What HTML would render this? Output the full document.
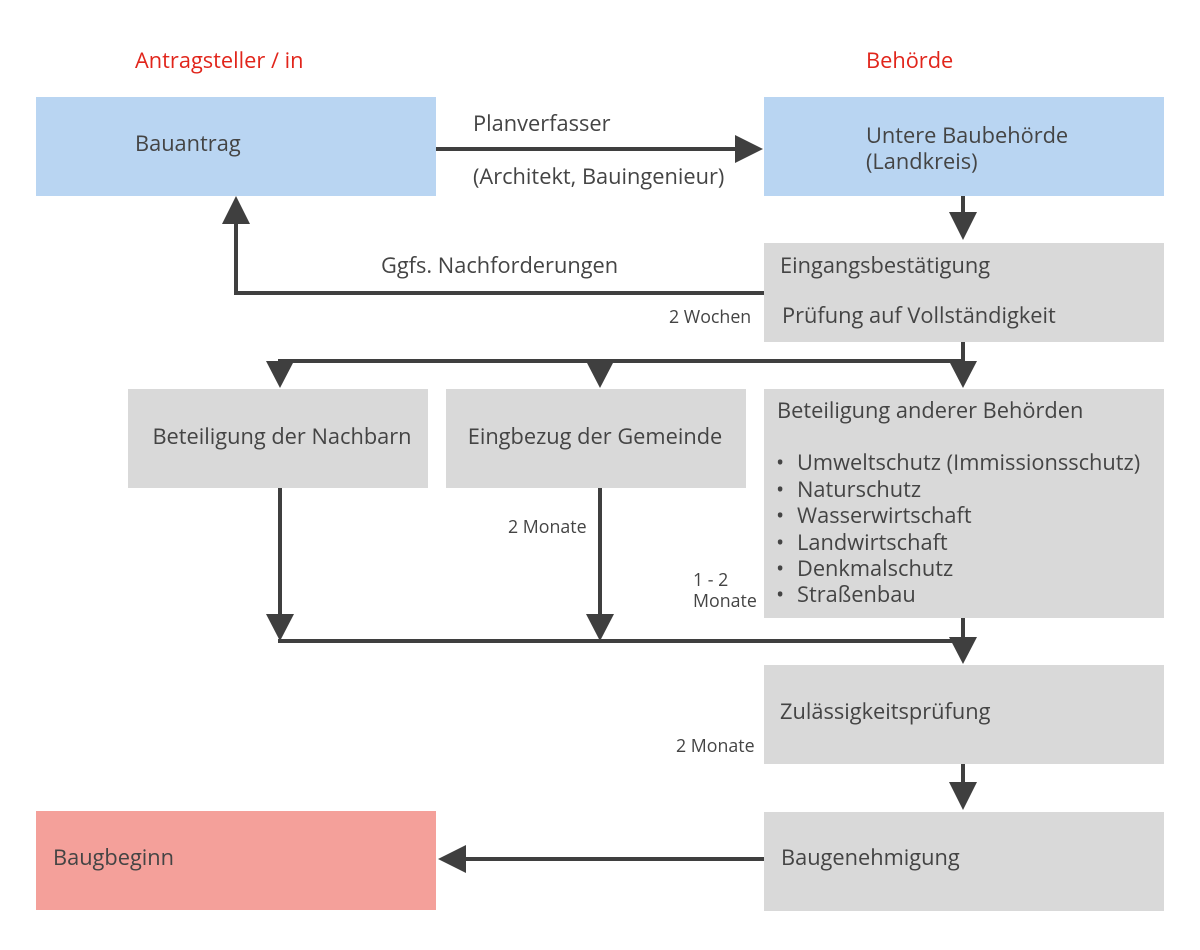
<!DOCTYPE html>
<html><head><meta charset="utf-8"><style>
html,body{margin:0;padding:0;background:#fff;}
svg{display:block;}
text{font-family:"Open Sans","Liberation Sans","DejaVu Sans",sans-serif;fill:#444;font-size:21.8px;}
.s{font-size:17.8px;}
.r{fill:#e1251b;}
</style></head><body>
<svg width="1200" height="950" viewBox="0 0 1200 950" xmlns="http://www.w3.org/2000/svg">
<text class="r" x="135" y="68">Antragsteller / in</text>
<text class="r" x="866" y="68">Behörde</text>

<rect x="36" y="97" width="400" height="99" fill="#b9d5f2"/>
<text x="135" y="151">Bauantrag</text>
<rect x="764" y="97" width="400" height="99" fill="#b9d5f2"/>
<text x="866" y="143">Untere Baubehörde</text>
<text x="866" y="169">(Landkreis)</text>

<rect x="764" y="243" width="400" height="99" fill="#d9d9d9"/>
<text x="780" y="273">Eingangsbestätigung</text>
<text x="782" y="323">Prüfung auf Vollständigkeit</text>

<rect x="128" y="389" width="300" height="99" fill="#d9d9d9"/>
<text x="282" y="444" text-anchor="middle">Beteiligung der Nachbarn</text>
<rect x="446" y="389" width="300" height="99" fill="#d9d9d9"/>
<text x="595" y="444" text-anchor="middle">Eingbezug der Gemeinde</text>
<rect x="764" y="389" width="400" height="229" fill="#d9d9d9"/>
<text x="777" y="418">Beteiligung anderer Behörden</text>
<g>
<text x="776" y="470">•</text><text x="797" y="470">Umweltschutz (Immissionsschutz)</text>
<text x="776" y="497">•</text><text x="797" y="497">Naturschutz</text>
<text x="776" y="523">•</text><text x="797" y="523">Wasserwirtschaft</text>
<text x="776" y="550">•</text><text x="797" y="550">Landwirtschaft</text>
<text x="776" y="576">•</text><text x="797" y="576">Denkmalschutz</text>
<text x="776" y="602">•</text><text x="797" y="602">Straßenbau</text>
</g>

<rect x="764" y="665" width="400" height="99" fill="#d9d9d9"/>
<text x="780" y="719">Zulässigkeitsprüfung</text>
<rect x="764" y="812" width="400" height="99" fill="#d9d9d9"/>
<text x="781" y="865">Baugenehmigung</text>
<rect x="36" y="811" width="400" height="99" fill="#f4a09a"/>
<text x="53" y="865">Baugbeginn</text>

<text x="473" y="131">Planverfasser</text>
<text x="473" y="184">(Architekt, Bauingenieur)</text>
<text x="381" y="273">Ggfs. Nachforderungen</text>
<text class="s" x="669" y="323">2 Wochen</text>
<text class="s" x="508" y="533">2 Monate</text>
<text class="s" x="693" y="586">1 - 2</text>
<text class="s" x="693" y="607">Monate</text>
<text class="s" x="676" y="752">2 Monate</text>

<g stroke="#3f3f3f" stroke-width="4" fill="none">
<line x1="436" y1="149" x2="740" y2="149"/>
<line x1="963" y1="196" x2="963" y2="215"/>
<polyline points="764,293 236,293 236,220"/>
<line x1="963" y1="342" x2="963" y2="361"/>
<line x1="278" y1="361" x2="965" y2="361"/>
<line x1="280" y1="488" x2="280" y2="618"/>
<line x1="600" y1="488" x2="600" y2="618"/>
<line x1="278" y1="641" x2="965" y2="641"/>
<line x1="963" y1="618" x2="963" y2="640"/>
<line x1="963" y1="764" x2="963" y2="785"/>
<line x1="764" y1="859" x2="460" y2="859"/>
</g>
<g fill="#3f3f3f">
<polygon points="735,135 763,149 735,163"/>
<polygon points="949,212 977,212 963,240"/>
<polygon points="222,224 250,224 236,196"/>
<polygon points="266,361 294,361 280,388"/>
<polygon points="586,361 614,361 600,388"/>
<polygon points="949,361 977,361 963,388"/>
<polygon points="266,614 294,614 280,641"/>
<polygon points="586,614 614,614 600,641"/>
<polygon points="949,637 977,637 963,664"/>
<polygon points="949,782 977,782 963,810"/>
<polygon points="466,845 466,873 438,859"/>
</g>
</svg>
</body></html>
